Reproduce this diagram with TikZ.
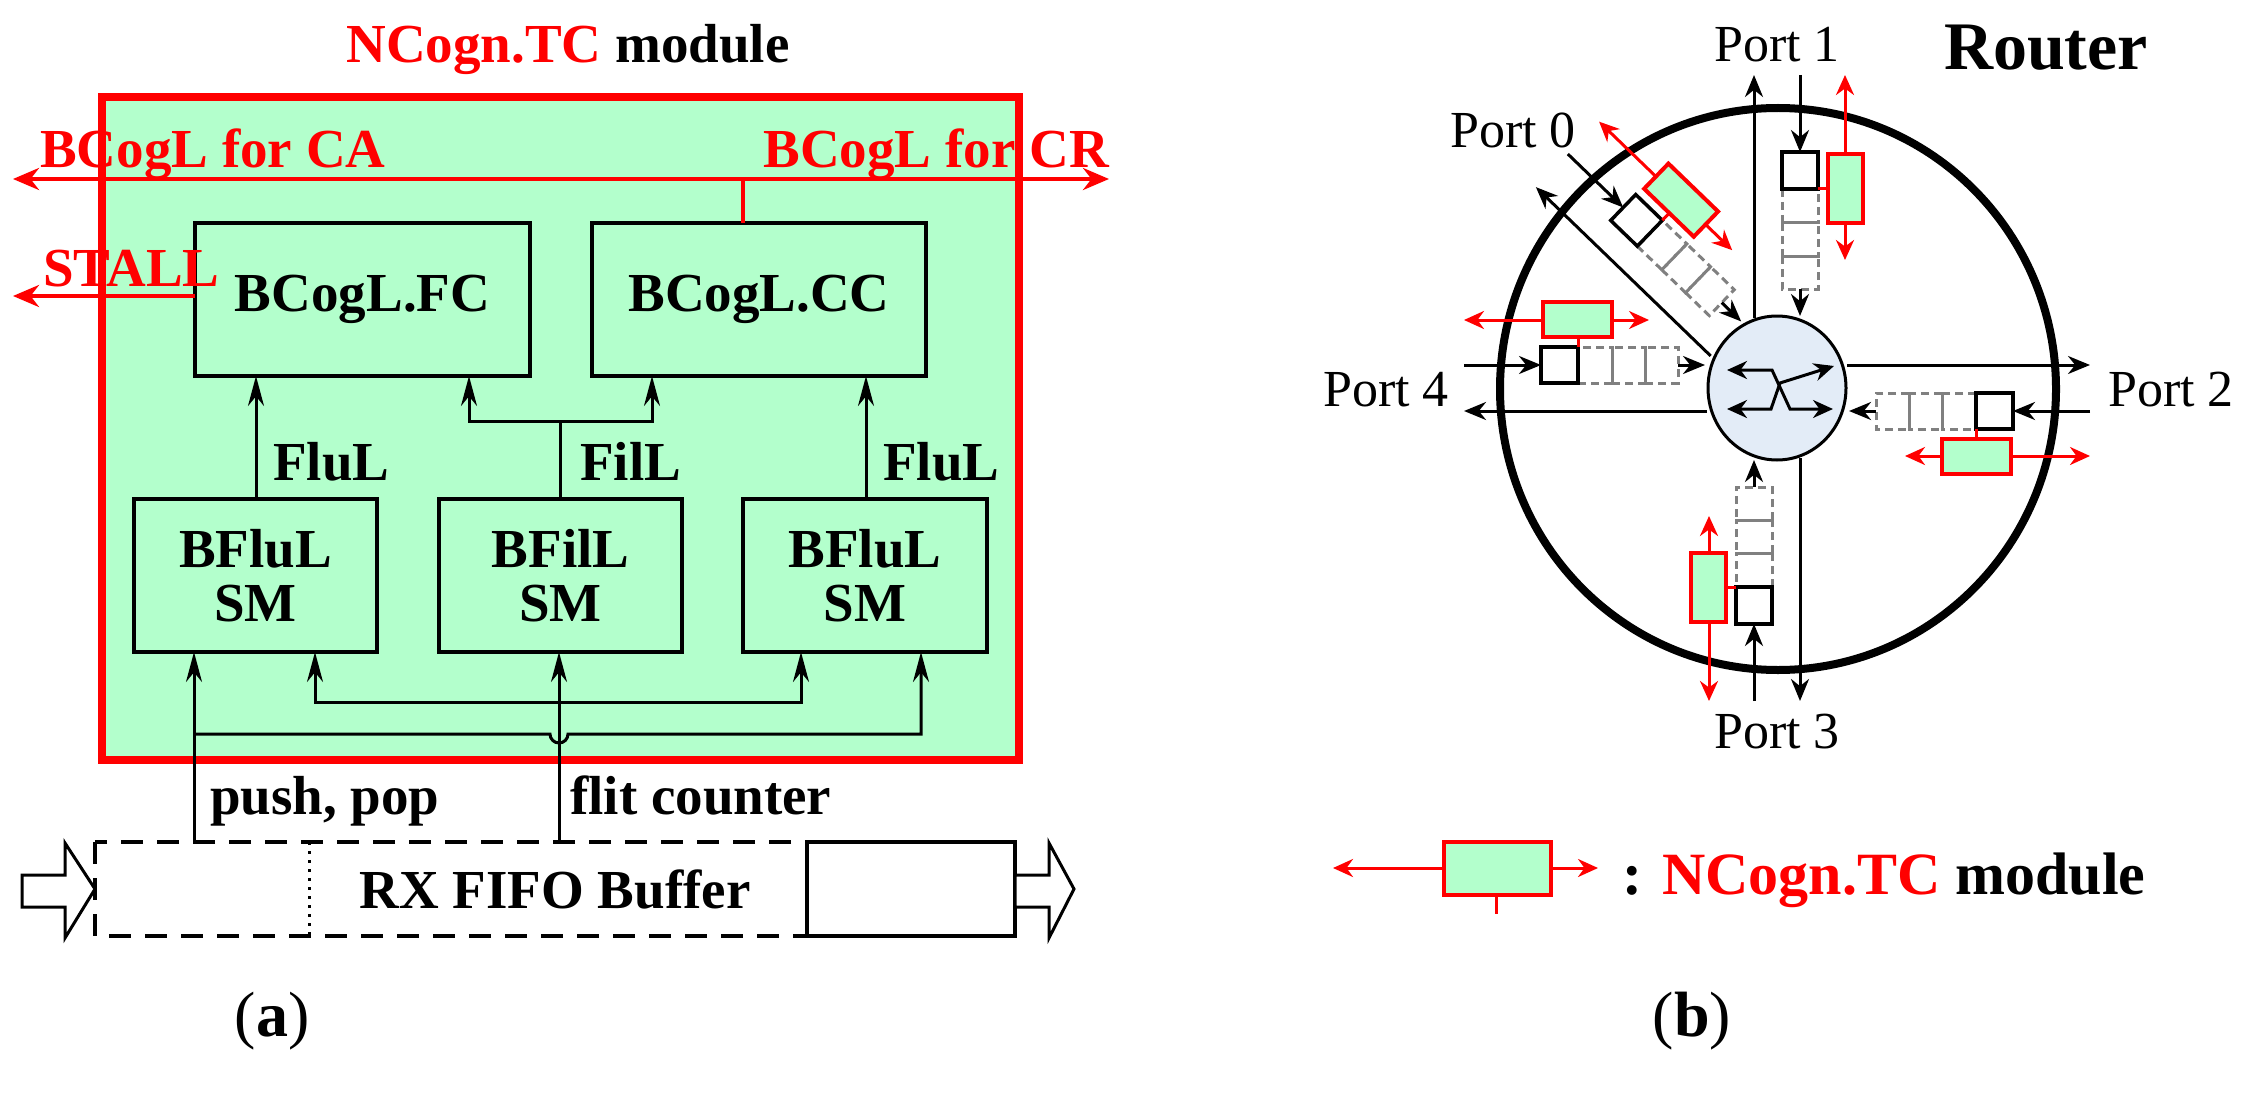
\documentclass[tikz,border=0pt]{standalone}
\usepackage{fontspec}
\setmainfont{Liberation Serif}
\usetikzlibrary{arrows.meta,shapes.geometric}
\definecolor{mgreen}{HTML}{B3FFCC}
\definecolor{swblue}{HTML}{E3ECF7}
\begin{document}
\begin{tikzpicture}[x=1pt,y=-1pt,
  lbl/.style={font=\fontsize{55}{60}\selectfont\bfseries,inner sep=0pt},
  prt/.style={font=\fontsize{52}{56}\selectfont,inner sep=0pt},
  blk/.style={draw=black,line width=4pt,fill=mgreen},
  ar/.style={line width=3pt,-{Stealth[length=30pt,width=16pt]}},
  rar/.style={red,line width=4pt,{Stealth[length=26pt,width=22pt]}-{Stealth[length=26pt,width=22pt]}},
  sar/.style={line width=3pt,-{Stealth[length=22pt,width=18pt]}},
  rsar/.style={red,line width=3pt,{Stealth[length=20pt,width=18pt]}-{Stealth[length=20pt,width=18pt]}},
  fifo/.style={draw=gray,line width=3pt,dash pattern=on 8pt off 5pt},
  rmod/.style={draw=red,line width=4pt,fill=mgreen},
  bbox/.style={draw=black,line width=3.5pt,fill=white}]
\useasboundingbox (0,0) rectangle (2249,1102);
% ---------- panel (a) ----------
\node[lbl,anchor=base,red] (title) at (568,63) {NCogn.TC \textcolor{black}{module}};
\fill[mgreen] (102,97) rectangle (1019,760);
\draw[red,line width=8pt] (102,97) rectangle (1019,760);
\node[blk,minimum width=335pt,minimum height=153pt,lbl] (fc) at (362.5,299.5) {BCogL.FC};
\node[blk,minimum width=334pt,minimum height=153pt,lbl] (cc) at (759,299.5) {BCogL.CC};
\node[blk,minimum width=243pt,minimum height=153pt,lbl,align=center] (s1) at (255.5,575.5) {BFluL\\[-6pt]SM};
\node[blk,minimum width=243pt,minimum height=153pt,lbl,align=center] (s2) at (560.5,575.5) {BFilL\\[-6pt]SM};
\node[blk,minimum width=244pt,minimum height=153pt,lbl,align=center] (s3) at (865,575.5) {BFluL\\[-6pt]SM};
\coordinate (cal) at (13,179); \coordinate (car) at (1109,179);
\draw[rar] (cal) -- (car);
\draw[red,line width=4pt] (743,179) -- (743,223);
\coordinate (stl) at (13,296);
\draw[red,line width=4pt,-{Stealth[length=26pt,width=22pt]}] (195,296) -- (stl);
\node[lbl,red,anchor=base west] (lca) at (40,168) {BCogL for CA};
\node[lbl,red,anchor=base east] (lcr) at (1109,168) {BCogL for CR};
\node[lbl,red,anchor=base west] (lst) at (43,287) {STALL};
\draw[ar] (256,499) -- (256,376);
\draw[ar] (866,499) -- (866,376);
\draw[line width=3pt] (560,499) -- (560,421);
\draw[ar] (560,421) -- (469,421) -- (469,376);
\draw[ar] (560,421) -- (652,421) -- (652,376);
\node[lbl,anchor=base west] (f1) at (273,480) {FluL};
\node[lbl,anchor=base west] (f2) at (580,480) {FilL};
\node[lbl,anchor=base west] (f3) at (883,480) {FluL};
% bottom buses
\draw[ar] (194,842) -- (194,652);
\draw[ar] (559,842) -- (559,652);
\draw[ar] (559,702) -- (315,702) -- (315,652);
\draw[ar] (559,702) -- (801,702) -- (801,652);
\draw[ar] (194,734) -- (550,734) arc[start angle=180,end angle=0,radius=9] -- (921,734) -- (921,652);
\node[lbl,anchor=base west] (pp) at (210,814) {push, pop};
\node[lbl,anchor=base west] (fcn) at (570,814) {flit counter};
% FIFO
\draw[line width=4pt,dash pattern=on 22pt off 14pt] (95,842) rectangle (1015,936);
\draw[line width=3pt,dash pattern=on 3pt off 6pt] (309,842) -- (309,936);
\draw[line width=4pt,fill=white] (807,842) rectangle (1015,936);
\node[lbl,anchor=center] (rx) at (555,889) {RX FIFO Buffer};
\draw[line width=3pt,fill=white] (22,875) -- (65,875) -- (65,843) -- (95,889) -- (65,938) -- (65,907) -- (22,907) -- cycle;
\draw[line width=3pt,fill=white] (1015,875) -- (1049,875) -- (1049,843) -- (1074,889) -- (1049,938) -- (1049,907) -- (1015,907) -- cycle;
\node[font=\fontsize{64}{70}\selectfont,inner sep=0pt] (la) at (272,1021) {(\textbf{a})};
% ---------- panel (b) ----------
\draw[line width=8pt] (1778,389) ellipse[x radius=278,y radius=281];
\node[draw=black,line width=3pt,fill=swblue,ellipse,minimum width=138pt,minimum height=144pt,inner sep=0pt] (sw) at (1777,388) {};
\draw[line width=3pt,{Stealth[length=20pt,width=18pt]}-{Stealth[length=20pt,width=18pt]}] (1727,370) -- (1772,370) -- (1790,409) -- (1833,409);
\draw[line width=3pt,{Stealth[length=20pt,width=18pt]}-{Stealth[length=20pt,width=18pt]}] (1727,409) -- (1771,409) -- (1780,383) -- (1834,366);
\foreach \ang in {0,-90,180,90,46}{
\begin{scope}[shift={(1777,388)},rotate=\ang]
 \draw[sar] (-23,-70) -- (-23,-313);
 \draw[sar] (23,-313) -- (23,-236);
 \foreach \a/\b in {-199/-165,-165/-132,-132/-99}{\draw[fifo] (5,\a) rectangle (41,\b);}
 \draw[sar] (23,-99) -- (23,-72);
 \draw[bbox] (5,-236) rectangle (41,-199);
 \draw[rsar] (68,-128) -- (68,-313);
 \draw[red,line width=3pt] (41,-199) -- (51,-199);
 \draw[rmod] (51,-234) rectangle (86,-165);
\end{scope}}
\node[prt] (p1) at (1777,45) {Port 1};
\node[prt] (p0) at (1513,130) {Port 0};
\node[prt] (p4) at (1386,390) {Port 4};
\node[prt] (p2) at (2171,390) {Port 2};
\node[prt] (p3) at (1777,732) {Port 3};
\node[font=\fontsize{68}{72}\selectfont\bfseries,inner sep=0pt] (rt) at (2046,48) {Router};
% legend
\coordinate (lgl) at (1333,868); \coordinate (lgr) at (1598,868);
\draw[rsar] (lgl) -- (lgr);
\draw[red,line width=3pt] (1496,895) -- (1496,914);
\draw[rmod] (1444,842) rectangle (1551,895);
\node[font=\fontsize{60}{64}\selectfont\bfseries,inner sep=0pt,anchor=base west] (lg) at (1622,894) {: \textcolor{red}{NCogn.TC} module};
\node[font=\fontsize{64}{70}\selectfont,inner sep=0pt] (lb) at (1692,1021) {(\textbf{b})};
\end{tikzpicture}
\end{document}
